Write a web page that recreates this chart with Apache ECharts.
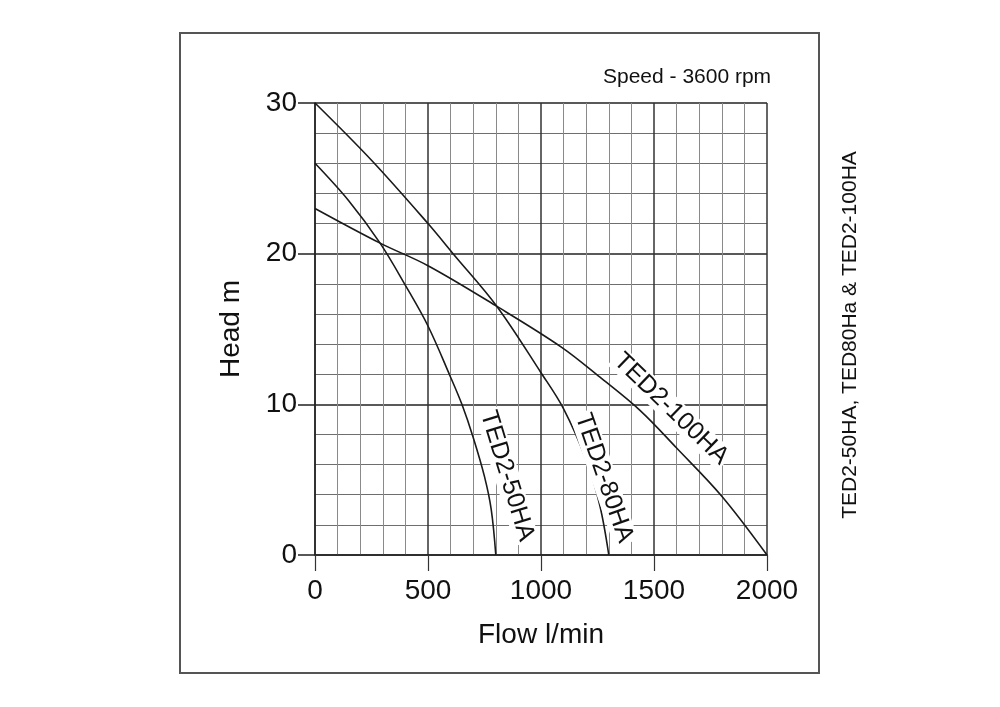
<!DOCTYPE html>
<html>
<head>
<meta charset="utf-8">
<script src="https://cdn.jsdelivr.net/npm/echarts@6/dist/echarts.min.js"></script>
<style>
html,body{margin:0;padding:0;background:#fff;}
#c{width:1000px;height:707px;}
</style>
</head>
<body>
<div id="c"></div>
<script>
// ---- data ----
var xTicks = [0, 500, 1000, 1500, 2000];
var yTicks = [0, 10, 20, 30];
var flow50 = [0, 150, 288, 400, 500, 600, 650, 700, 750, 780, 800];
var head50 = [26, 23.5, 20.7, 17.9, 15.2, 11.8, 10, 7.8, 5.2, 3.0, 0];
var flow80 = [0, 250, 500, 611, 805, 1000, 1100, 1200, 1260, 1300];
var head80 = [30, 26.2, 22, 20, 16.5, 12.1, 9.7, 6.3, 3.3, 0];
var flow100 = [0, 288, 500, 805, 1090, 1261, 1438, 1600, 1800, 2000];
var head100 = [23, 20.7, 19.2, 16.5, 13.8, 11.8, 9.6, 7.1, 3.9, 0];
var seriesNames = ['TED2-50HA', 'TED2-80HA', 'TED2-100HA'];
var xName = 'Flow l/min';
var yName = 'Head m';
var speedText = 'Speed - 3600 rpm';
var sideTitle = 'TED2-50HA, TED80Ha & TED2-100HA';

function zip(xs, ys) { return xs.map(function (x, i) { return [x, ys[i]]; }); }

var font = 'Liberation Sans, Arial, sans-serif';
var chart = echarts.init(document.getElementById('c'), null, {renderer: 'canvas'});

function lineSeries(name, xs, ys) {
  return {
    name: name, type: 'line', data: zip(xs, ys), showSymbol: false, symbol: 'none',
    smooth: 0.35, lineStyle: {color: '#1a1a1a', width: 1.6}, z: 5, silent: true
  };
}

chart.setOption({
  animation: false,
  backgroundColor: '#fff',
  grid: {left: 315, top: 103, width: 452, height: 452, show: false},
  xAxis: {
    type: 'value', min: 0, max: 2000, interval: 500,
    name: xName, nameLocation: 'middle', nameGap: 66,
    nameTextStyle: {fontFamily: font, fontSize: 28, color: '#111'},
    axisLine: {show: true, onZero: false, lineStyle: {color: '#222', width: 1.5}},
    axisTick: {show: true, length: 16, lineStyle: {color: '#333', width: 1.2}},
    axisLabel: {fontFamily: font, fontSize: 28, color: '#111', margin: 22,
      formatter: function (v) { return xTicks.indexOf(v) >= 0 ? String(v) : ''; }},
    splitLine: {show: true, lineStyle: {color: '#333', width: 1.5}},
    minorTick: {show: false, splitNumber: 5},
    minorSplitLine: {show: true, lineStyle: {color: '#8a8a8a', width: 1}}
  },
  yAxis: {
    type: 'value', min: 0, max: 30, interval: 10,
    name: yName, nameLocation: 'middle', nameGap: 70, nameRotate: 90,
    nameTextStyle: {fontFamily: font, fontSize: 28, color: '#111'},
    axisLine: {show: true, onZero: false, lineStyle: {color: '#222', width: 1.5}},
    axisTick: {show: true, length: 17, lineStyle: {color: '#222', width: 1.5}},
    axisLabel: {fontFamily: font, fontSize: 28, color: '#111', margin: 18,
      formatter: function (v) { return yTicks.indexOf(v) >= 0 ? String(v) : ''; }},
    splitLine: {show: true, lineStyle: {color: '#222', width: 1.5}},
    minorTick: {show: false, splitNumber: 5},
    minorSplitLine: {show: true, lineStyle: {color: '#6e6e6e', width: 1}}
  },
  series: [
    lineSeries(seriesNames[0], flow50, head50),
    lineSeries(seriesNames[1], flow80, head80),
    lineSeries(seriesNames[2], flow100, head100)
  ],
  graphic: [
    {type: 'rect', shape: {x: 180, y: 33, width: 639, height: 640},
      style: {fill: 'none', stroke: '#555', lineWidth: 2}, z: 0, silent: true},
    {type: 'text', x: 603, y: 77, style: {text: speedText, font: '21px ' + font, fill: '#111',
      textVerticalAlign: 'middle', textAlign: 'left'}},
    {type: 'text', x: 850, y: 335, rotation: Math.PI / 2,
      style: {text: sideTitle, font: '21px ' + font, fill: '#111', textAlign: 'center', textVerticalAlign: 'middle'}},
    {type: 'text', x: 507, y: 476, rotation: -73 * Math.PI / 180, z: 10,
      style: {text: seriesNames[0], font: '25px ' + font, fill: '#111', textAlign: 'center', textVerticalAlign: 'middle',
        backgroundColor: '#fff', padding: [0, 2]}},
    {type: 'text', x: 604, y: 478, rotation: -71 * Math.PI / 180, z: 10,
      style: {text: seriesNames[1], font: '25px ' + font, fill: '#111', textAlign: 'center', textVerticalAlign: 'middle',
        backgroundColor: '#fff', padding: [0, 2]}},
    {type: 'text', x: 671, y: 409, rotation: -44 * Math.PI / 180, z: 10,
      style: {text: seriesNames[2], font: '25px ' + font, fill: '#111', textAlign: 'center', textVerticalAlign: 'middle',
        backgroundColor: '#fff', padding: [0, 2]}}
  ]
});
</script>
</body>
</html>
